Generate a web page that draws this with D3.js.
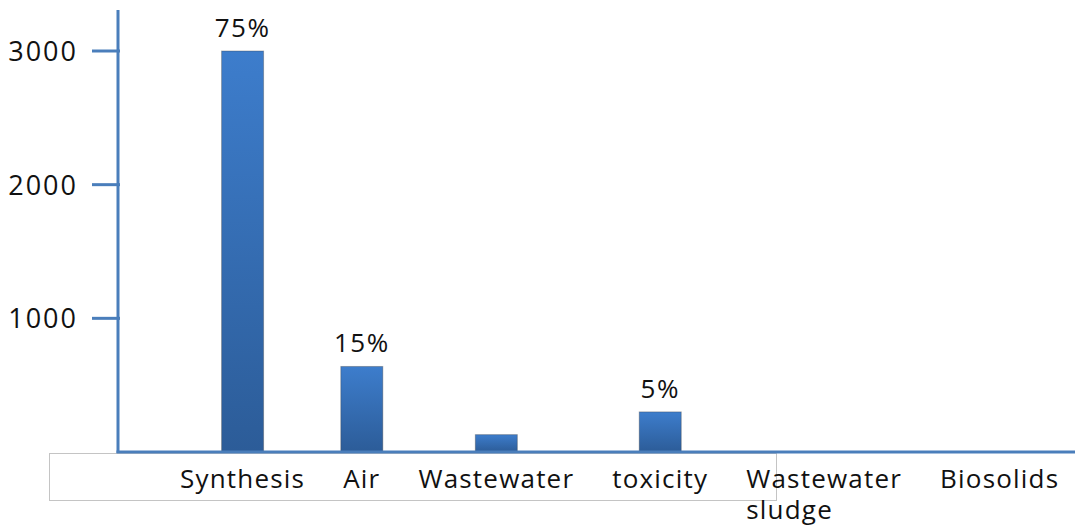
<!DOCTYPE html>
<html><head><meta charset="utf-8">
<script src="https://cdn.jsdelivr.net/npm/d3@7"></script>
<style>html,body{margin:0;padding:0;background:#fff;}svg{display:block;}</style>
</head><body>
<svg id="chart" width="1075" height="527"></svg>
<script>
const categories = ["Synthesis", "Air", "Wastewater", "toxicity", "Wastewater sludge", "Biosolids"];
const values = [3000, 640, 130, 300, 0, 0];
const percentLabels = ["75%", "15%", "", "5%", "", ""];
const yTicks = [1000, 2000, 3000];

const svg = d3.select("#chart");
const FONT = "'Open Sans', 'DejaVu Sans', sans-serif";
const axisColor = "#4a7ebb";
const x0 = 118, yBase = 452;

const y = d3.scaleLinear().domain([0, 3000]).range([yBase, 51]);

const defs = svg.append("defs");
const grad = defs.append("linearGradient").attr("id", "barGrad").attr("x1", 0).attr("y1", 0).attr("x2", 0).attr("y2", 1);
grad.append("stop").attr("offset", "0%").attr("stop-color", "#3d7dcc");
grad.append("stop").attr("offset", "100%").attr("stop-color", "#2c5c98");

// label box
svg.append("rect").attr("x", 49.5).attr("y", 453.5).attr("width", 727).attr("height", 47)
  .attr("fill", "#fff").attr("stroke", "#c4c4c4").attr("stroke-width", 1);

// category labels laid out as a flowing text line
const labelG = svg.append("g").attr("font-family", FONT).attr("font-size", 26)
  .attr("letter-spacing", 1.2).attr("fill", "#111");
let cursor = 180;
const gap = 38;
const centers = [];
categories.forEach((c, i) => {
  const words = c.split(" ");
  const t = labelG.append("text").attr("x", cursor).attr("y", 488).text(words[0]);
  const w = t.node().getComputedTextLength();
  centers.push(cursor + w / 2);
  if (words.length > 1) {
    labelG.append("text").attr("x", cursor).attr("y", 519).text(words.slice(1).join(" "));
  }
  cursor += w + gap;
});

const x = d3.scaleOrdinal().domain(categories).range(centers);
const barW = 42;

// bars
svg.append("g").selectAll("rect").data(categories).join("rect")
  .attr("x", (d) => x(d) - barW / 2)
  .attr("y", (d, i) => y(values[i]))
  .attr("width", barW)
  .attr("height", (d, i) => yBase - y(values[i]))
  .attr("fill", "url(#barGrad)")
  .attr("stroke", "rgba(60,60,60,0.35)").attr("stroke-width", 1);

// percent labels
svg.append("g").attr("font-family", FONT).attr("font-size", 26).attr("letter-spacing", 1.5).attr("fill", "#111")
  .selectAll("text").data(categories).join("text")
  .attr("x", (d) => x(d))
  .attr("y", (d, i) => y(values[i]) - 14)
  .attr("text-anchor", "middle")
  .text((d, i) => percentLabels[i]);

// y axis
svg.append("line").attr("x1", x0).attr("x2", x0).attr("y1", y(3307)).attr("y2", yBase + 1)
  .attr("stroke", axisColor).attr("stroke-width", 3);
const tg = svg.append("g");
tg.selectAll("line").data(yTicks).join("line")
  .attr("x1", 92).attr("x2", x0 + 2).attr("y1", (d) => y(d)).attr("y2", (d) => y(d))
  .attr("stroke", axisColor).attr("stroke-width", 3);
tg.selectAll("text").data(yTicks).join("text")
  .attr("x", 78).attr("y", (d) => y(d) + 10)
  .attr("text-anchor", "end")
  .attr("font-family", FONT).attr("font-size", 27).attr("letter-spacing", 2).attr("fill", "#111")
  .text((d) => d);

// x axis
svg.append("line").attr("x1", x0 - 1.5).attr("x2", 1075).attr("y1", yBase).attr("y2", yBase)
  .attr("stroke", axisColor).attr("stroke-width", 3);
</script>
</body></html>
